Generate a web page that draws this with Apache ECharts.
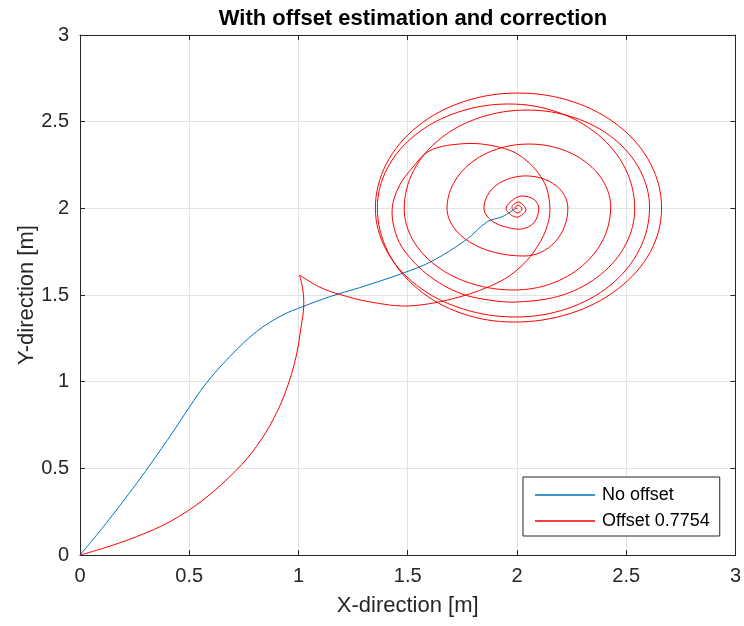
<!DOCTYPE html>
<html>
<head>
<meta charset="utf-8">
<title>With offset estimation and correction</title>
<script src="https://cdn.jsdelivr.net/npm/echarts@6/dist/echarts.min.js"></script>
<style>
  html, body { margin: 0; padding: 0; background: #fff; }
  #chart { width: 744px; height: 626px; }
</style>
</head>
<body>
<div id="chart"></div>
<script>
const titleText = 'With offset estimation and correction'
const xName = 'X-direction [m]'
const yName = 'Y-direction [m]'
const axisMin = 0, axisMax = 3, axisStep = 0.5
const legendNames = ['No offset', 'Offset 0.7754']

// blue path
const noOffsetPath = [
  [0, 0], [0.107, 0.163], [0.259, 0.413], [0.411, 0.683], [0.502, 0.856],
  [0.578, 0.991], [0.685, 1.144], [0.807, 1.288], [0.928, 1.385], [1.02, 1.433],
  [1.142, 1.49], [1.279, 1.542], [1.476, 1.625], [1.606, 1.692], [1.766, 1.817],
  [1.864, 1.923], [1.933, 1.952], [1.994, 2.0]
]

// red path from origin up to the cusp
const offsetApproach = [
  [0, 0], [0.107, 0.039], [0.259, 0.106], [0.411, 0.192], [0.563, 0.317],
  [0.716, 0.49], [0.807, 0.625], [0.883, 0.779], [0.944, 0.952], [0.989, 1.144],
  [1.012, 1.317], [1.024, 1.433], [1.02, 1.529], [1.005, 1.615]
]

// red path from the cusp, one line per turn round the goal
const offsetSpiral = [
  [1.005, 1.615], [1.096, 1.546], [1.187, 1.504], [1.324, 1.461], [1.507, 1.437],
  [1.735, 1.488], [1.918, 1.575], [2.009, 1.654], [2.078, 1.75], [2.132, 1.875],
  [2.151, 2.002], [2.119, 2.163], [2.009, 2.308], [1.872, 2.365], [1.735, 2.371],
  [1.598, 2.331], [1.521, 2.233], [1.461, 2.129], [1.429, 2.002],
  [1.443, 1.863], [1.489, 1.748], [1.598, 1.61], [1.735, 1.512], [1.872, 1.471], [2.009, 1.46],
  [2.212, 1.501], [2.384, 1.619], [2.499, 1.795], [2.539, 2.002], [2.495, 2.232], [2.37, 2.426], [2.183, 2.556], [1.963, 2.602],
  [1.733, 2.556], [1.537, 2.426], [1.407, 2.232], [1.361, 2.002], [1.409, 1.75], [1.544, 1.537], [1.747, 1.394], [1.986, 1.344],
  [2.245, 1.394], [2.464, 1.537], [2.611, 1.75], [2.662, 2.002], [2.612, 2.256], [2.47, 2.471], [2.256, 2.615], [2.005, 2.665],
  [1.755, 2.615], [1.543, 2.471], [1.402, 2.256], [1.352, 2.002], [1.401, 1.761], [1.54, 1.557], [1.749, 1.421], [1.995, 1.373],
  [2.229, 1.421], [2.428, 1.557], [2.56, 1.761], [2.607, 2.002], [2.564, 2.218], [2.443, 2.402], [2.261, 2.524], [2.046, 2.567],
  [1.831, 2.524], [1.649, 2.402], [1.527, 2.218], [1.484, 2.002], [1.522, 1.821], [1.631, 1.668], [1.794, 1.565], [1.986, 1.529],
  [2.156, 1.565], [2.299, 1.668], [2.395, 1.821], [2.429, 2.002], [2.401, 2.143], [2.319, 2.263], [2.198, 2.343], [2.055, 2.371],
  [1.911, 2.343], [1.79, 2.263], [1.709, 2.143], [1.68, 2.002], [1.707, 1.896], [1.783, 1.806], [1.897, 1.746], [2.032, 1.725],
  [2.109, 1.746], [2.174, 1.806], [2.218, 1.896], [2.233, 2.002], [2.218, 2.073], [2.177, 2.133], [2.114, 2.173], [2.041, 2.187],
  [1.968, 2.173], [1.905, 2.133], [1.864, 2.073], [1.849, 2.002], [1.862, 1.956], [1.9, 1.916], [1.956, 1.89], [2.023, 1.881],
  [2.078, 1.917], [2.1, 2.002], [2.078, 2.051], [2.023, 2.071], [1.984, 2.051], [1.95, 2.002], [1.973, 1.962], [2.005, 1.95],
  [2.041, 1.99], [2.009, 2.036], [1.977, 2.008], [2.0, 1.973], [2.023, 1.996], [2.005, 2.019], [1.991, 2.002], [2.002, 1.999]
]

const font = 'Arial, "Liberation Sans", Helvetica, sans-serif'
const ink = '#262626'

function boxAxis(pos, showLabels, name, nameGap) {
  return {
    type: 'value',
    position: pos,
    min: axisMin,
    max: axisMax,
    interval: axisStep,
    name: name || '',
    nameLocation: 'middle',
    nameGap: nameGap || 0,
    nameMoveOverlap: false,
    nameTextStyle: { color: ink, fontSize: 22, fontFamily: font },
    axisLine: { show: true, onZero: false, lineStyle: { color: ink, width: 1 } },
    axisTick: { show: true, inside: true, length: 5, lineStyle: { color: ink } },
    axisLabel: { show: showLabels, color: ink, fontSize: 20, fontFamily: font, margin: 11 },
    splitLine: { show: showLabels, lineStyle: { color: '#e3e3e3', width: 1 } }
  }
}

// the line series smooths only along x, so the paths go through a custom
// series and a 2d-smoothed polyline, placed by the axes with api.coord
function pathSeries(name, data, color, z) {
  return {
    name: name,
    type: 'custom',
    data: data,
    encode: { x: 0, y: 1 },
    itemStyle: { color: color },
    z: z,
    renderItem: function (params, api) {
      if (params.dataIndexInside !== 0) return null
      let pts = []
      for (let i = 0; i < data.length; i++) {
        pts.push(api.coord([api.value(0, i), api.value(1, i)]))
      }
      return {
        type: 'polyline',
        silent: true,
        shape: { points: pts, smooth: 0.35 },
        style: { stroke: color, fill: null, lineWidth: 1 }
      }
    }
  }
}

const option = {
  animation: false,
  backgroundColor: '#fff',
  title: {
    text: titleText,
    left: 408,
    textAlign: 'center',
    top: 3,
    textStyle: { fontSize: 22, fontWeight: 'bold', color: '#000', fontFamily: font }
  },
  grid: { left: 80, right: 7, top: 35, bottom: 71, containLabel: false },
  legend: {
    data: legendNames,
    orient: 'vertical',
    left: 523,
    top: 477,
    icon: 'rect',
    itemWidth: 60,
    itemHeight: 1.5,
    itemGap: 8,
    padding: [9, 10, 6, 12],
    backgroundColor: '#fff',
    borderColor: ink,
    borderWidth: 1,
    borderRadius: 0,
    textStyle: { fontSize: 18, color: '#000', fontFamily: font, padding: [0, 0, 0, 2] }
  },
  xAxis: [
    boxAxis('bottom', true, xName, 40),
    boxAxis('top', false)
  ],
  yAxis: [
    boxAxis('left', true, yName, 42),
    boxAxis('right', false)
  ],
  series: [
    pathSeries(legendNames[0], noOffsetPath, '#0072BD', 2),
    pathSeries(legendNames[1], offsetApproach, '#ff0000', 3),
    pathSeries(legendNames[1], offsetSpiral, '#ff0000', 3)
  ]
}

const chartIns = echarts.init(document.getElementById('chart'), null, { renderer: 'canvas' })
chartIns.setOption(option)
</script>
</body>
</html>
